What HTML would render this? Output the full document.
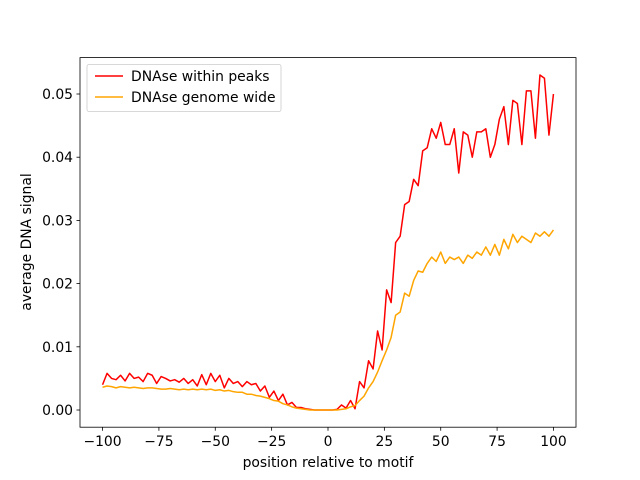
<!DOCTYPE html>
<html><head><meta charset="utf-8"><style>
body{margin:0;background:#fff}
svg{font-family:"DejaVu Sans","Liberation Sans",sans-serif;display:block}
</style></head><body>
<svg id="chart" width="640" height="480">
<rect width="640" height="480" fill="#fff"/>
<g id="plot"></g>
<rect x="80" y="57.6" width="496" height="369.6" fill="none" stroke="#000" stroke-width="0.8"/>
<g id="xt" font-size="13.9" text-anchor="middle"></g>
<g id="yt" font-size="13.9" text-anchor="end"></g>
<text x="328" y="467" font-size="13.9" text-anchor="middle">position relative to motif</text>
<text transform="translate(31,242) rotate(-90)" font-size="13.9" text-anchor="middle">average DNA signal</text>
<g>
<rect x="87" y="64.5" width="194" height="47" rx="2" fill="#fff" fill-opacity="0.8" stroke="#ccc" stroke-width="0.8"/>
<g><line x1="95" y1="76" x2="123" y2="76" stroke="red" stroke-width="1.5"/><text x="131" y="81" font-size="13.9">DNAse within peaks</text></g>
<g><line x1="95" y1="97" x2="123" y2="97" stroke="orange" stroke-width="1.5"/><text x="131" y="102" font-size="13.9">DNAse genome wide</text></g>
</g>
</svg>
<script>
const positionStart=-100, positionStep=2;
const peaks=[0.0040,0.0058,0.0050,0.0048,0.0055,0.0046,0.0058,0.0050,0.0052,0.0045,0.0058,0.0055,0.0042,0.0053,0.0050,0.0046,0.0048,0.0044,0.0050,0.0042,0.0048,
0.0038,0.0056,0.0040,0.0058,0.0045,0.0055,0.0035,0.0050,0.0042,0.0045,0.0037,0.0045,0.0040,0.0042,0.0030,0.0038,0.0020,0.0030,0.0015,0.0025,
0.0008,0.0012,0.0004,0.0004,0.0002,0.0001,0.0000,0.0000,0.0000,0.0000,
0.0000,0.0001,0.0008,0.0003,0.0015,0.0002,0.0045,0.0035,0.0078,0.0065,
0.0125,0.0095,0.0190,0.0170,0.0265,0.0275,0.0325,0.0330,0.0365,0.0355,
0.0410,0.0415,0.0445,0.0430,0.0455,0.0420,0.0420,0.0445,0.0375,0.0440,
0.0435,0.0400,0.0440,0.0440,0.0445,0.0400,0.0420,0.0460,0.0480,0.0420,
0.0490,0.0485,0.0420,0.0505,0.0505,0.0430,0.0530,0.0525,0.0435,0.0500];
const genome=[0.0036,0.0038,0.0037,0.0035,0.0037,0.0036,0.0035,0.0036,0.0035,0.0034,0.0035,0.0035,0.0034,0.0033,0.0033,0.0034,0.0033,0.0032,0.0033,0.0032,0.0033,
0.0032,0.0033,0.0032,0.0033,0.0031,0.0032,0.0030,0.0031,0.0029,0.0028,0.0028,0.0025,0.0025,0.0023,0.0022,0.0020,0.0018,0.0015,0.0014,0.0010,
0.0008,0.0005,0.0003,0.0002,0.0001,0.0000,0.0000,0.0000,0.0000,0.0000,
0.0000,0.0000,0.0001,0.0002,0.0005,0.0007,0.0015,0.0022,0.0035,0.0045,
0.0060,0.0078,0.0095,0.0115,0.0150,0.0155,0.0185,0.0180,0.0205,0.0220,
0.0218,0.0232,0.0242,0.0235,0.0250,0.0232,0.0242,0.0238,0.0242,0.0232,
0.0245,0.0240,0.0250,0.0245,0.0258,0.0245,0.0262,0.0245,0.0270,0.0255,
0.0278,0.0265,0.0275,0.0270,0.0265,0.0280,0.0275,0.0282,0.0275,0.0285];
const xTicks=[-100,-75,-50,-25,0,25,50,75,100];
const yTicks=[0,0.01,0.02,0.03,0.04,0.05];
const yTickLabels=["0.00","0.01","0.02","0.03","0.04","0.05"];

const X0=80,X1=576,Y0=427.2,Y1=57.6;
const xs=v=>X0+(v+110)/220*(X1-X0);
const yMin=-0.00272,yMax=0.05576;
const ys=v=>Y0-(v-yMin)/(yMax-yMin)*(Y0-Y1);
const NS="http://www.w3.org/2000/svg";
const plot=document.getElementById('plot');
function line(arr,color,name){
  const p=document.createElementNS(NS,'polyline');
  p.setAttribute('points',arr.map((v,i)=>xs(positionStart+i*positionStep).toFixed(2)+','+ys(v).toFixed(2)).join(' '));
  p.setAttribute('fill','none');p.setAttribute('stroke',color);p.setAttribute('stroke-width','1.5');p.setAttribute('stroke-linejoin','round');
  
  
  plot.appendChild(p);
}
line(peaks,'red','series-peaks');
line(genome,'orange','series-genome');
const xt=document.getElementById('xt'),yt=document.getElementById('yt');
xTicks.forEach(t=>{
  const x=xs(t);
  const l=document.createElementNS(NS,'line');
  l.setAttribute('x1',x);l.setAttribute('x2',x);l.setAttribute('y1',Y0);l.setAttribute('y2',Y0+3.5);l.setAttribute('stroke','#000');l.setAttribute('stroke-width','0.8');
  
  
  xt.appendChild(l);
  const s=document.createElementNS(NS,'text');
  s.setAttribute('x',x);s.setAttribute('y',Y0+19);s.textContent=t<0?'\u2212'+(-t):String(t);
  
  
  xt.appendChild(s);
});
yTicks.forEach((t,i)=>{
  const y=ys(t);
  const l=document.createElementNS(NS,'line');
  l.setAttribute('x1',X0-3.5);l.setAttribute('x2',X0);l.setAttribute('y1',y);l.setAttribute('y2',y);l.setAttribute('stroke','#000');l.setAttribute('stroke-width','0.8');
  
  
  yt.appendChild(l);
  const s=document.createElementNS(NS,'text');
  s.setAttribute('x',X0-7);s.setAttribute('y',y+5);s.textContent=yTickLabels[i];
  
  
  yt.appendChild(s);
});
</script>
</body></html>
